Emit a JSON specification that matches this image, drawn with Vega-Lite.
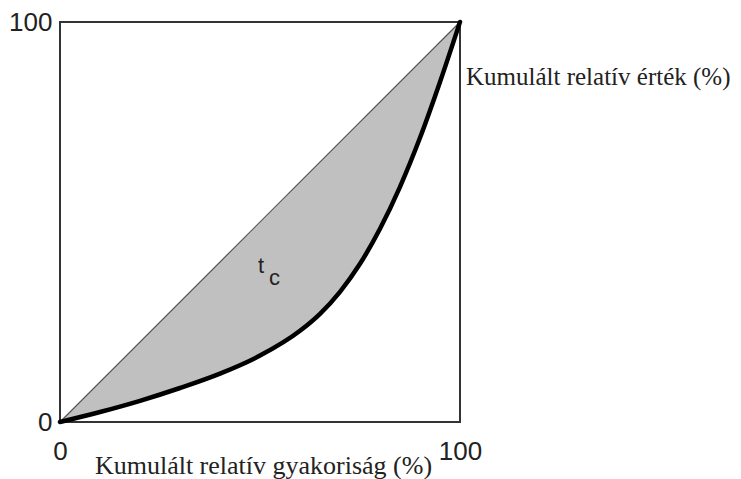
{
  "$schema": "https://vega.github.io/schema/vega-lite/v6.json",
  "width": 400,
  "height": 400,
  "autosize": "none",
  "padding": {"left": 60, "top": 22, "right": 281, "bottom": 57},
  "background": "white",
  "config": {
    "view": {"stroke": "#333333", "strokeWidth": 2},
    "axis": {"grid": false, "domain": false, "ticks": false}
  },
  "datasets": {
    "curve": [
      {"x": 0, "y": 0, "d": 0},
      {"x": 10, "y": 2.5, "d": 10},
      {"x": 20, "y": 5.3, "d": 20},
      {"x": 30, "y": 8.5, "d": 30},
      {"x": 40, "y": 12.1, "d": 40},
      {"x": 50, "y": 16.6, "d": 50},
      {"x": 60, "y": 22.8, "d": 60},
      {"x": 65, "y": 27.05, "d": 65},
      {"x": 70, "y": 32.55, "d": 70},
      {"x": 75, "y": 39.55, "d": 75},
      {"x": 80, "y": 48.3, "d": 80},
      {"x": 85, "y": 58.8, "d": 85},
      {"x": 90, "y": 71.05, "d": 90},
      {"x": 95, "y": 85, "d": 95},
      {"x": 100, "y": 100, "d": 100}
    ],
    "diag": [{"x": 0, "y": 0}, {"x": 100, "y": 100}],
    "labels": [
      {"x": 101.5, "y": 84.25, "t": "Kumulált relatív érték (%)"}
    ],
    "tc": [
      {"x": 49.5, "y": 37.25, "t": "t"},
      {"x": 52.25, "y": 34.25, "t": "c"}
    ]
  },
  "layer": [
    {
      "data": {"name": "curve"},
      "mark": {"type": "area", "interpolate": "monotone", "color": "#c0c0c0", "clip": false},
      "encoding": {
        "x": {
          "field": "x", "type": "quantitative",
          "scale": {"domain": [0, 100], "nice": false, "zero": false},
          "axis": {
            "values": [0, 100],
            "labelFont": "Liberation Sans", "labelFontSize": 26, "labelColor": "#222222",
            "labelPadding": 16, "labelFlush": false,
            "title": "Kumulált relatív gyakoriság (%)",
            "titleFont": "Liberation Serif", "titleFontSize": 26, "titleFontWeight": "normal",
            "titleColor": "#222222",
            "titleX": 203, "titleY": 51, "titleBaseline": "alphabetic", "titleAnchor": "middle", "titleAlign": "center"
          }
        },
        "y": {
          "field": "y", "type": "quantitative",
          "scale": {"domain": [0, 100], "nice": false, "zero": false},
          "axis": {
            "values": [0, 100],
            "labelFont": "Liberation Sans", "labelFontSize": 26, "labelColor": "#222222",
            "labelPadding": 8, "labelFlush": false, "title": null
          }
        },
        "y2": {"field": "d"}
      }
    },
    {
      "data": {"name": "diag"},
      "mark": {"type": "line", "color": "#555555", "strokeWidth": 1.2},
      "encoding": {
        "x": {"field": "x", "type": "quantitative"},
        "y": {"field": "y", "type": "quantitative"}
      }
    },
    {
      "data": {"name": "curve"},
      "mark": {"type": "line", "interpolate": "monotone", "color": "#000000", "strokeWidth": 4.5, "strokeCap": "round"},
      "encoding": {
        "x": {"field": "x", "type": "quantitative"},
        "y": {"field": "y", "type": "quantitative"}
      }
    },
    {
      "data": {"name": "labels"},
      "mark": {"type": "text", "align": "left", "baseline": "alphabetic", "font": "Liberation Serif", "fontSize": 25, "color": "#222222"},
      "encoding": {
        "x": {"field": "x", "type": "quantitative"},
        "y": {"field": "y", "type": "quantitative"},
        "text": {"field": "t"}
      }
    },
    {
      "data": {"name": "tc"},
      "mark": {"type": "text", "align": "left", "baseline": "alphabetic", "font": "Liberation Sans", "fontSize": 22, "color": "#222222"},
      "encoding": {
        "x": {"field": "x", "type": "quantitative"},
        "y": {"field": "y", "type": "quantitative"},
        "text": {"field": "t"}
      }
    }
  ]
}
